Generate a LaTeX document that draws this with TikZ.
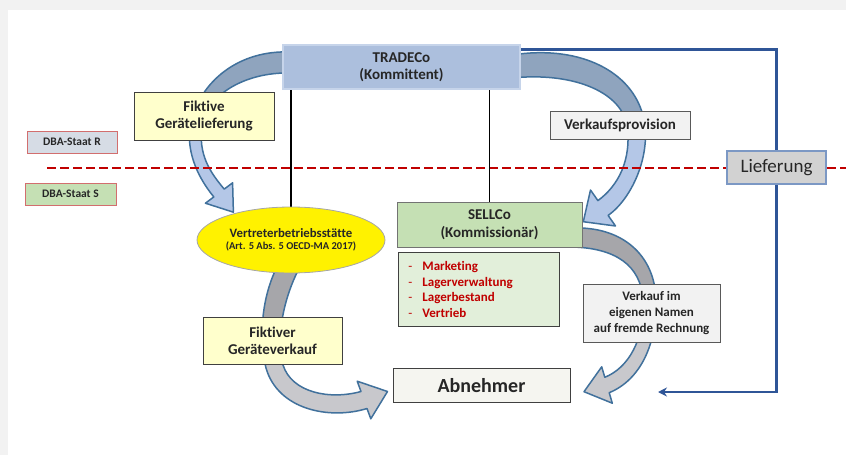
\documentclass[tikz,border=0pt]{standalone}
\usepackage{fontspec}
\setmainfont{Carlito}[Ligatures=NoCommon]
\usetikzlibrary{arrows.meta,shapes.geometric,calc,backgrounds}

\definecolor{rimblue}{RGB}{65,113,156}
\definecolor{lineblue}{RGB}{47,85,151}
\definecolor{dbared}{RGB}{192,0,0}
\definecolor{greyblue}{RGB}{143,164,190}
\definecolor{lightblue}{RGB}{180,199,231}
\definecolor{darkgrey}{RGB}{166,166,170}
\definecolor{lightgrey}{RGB}{200,200,204}
\definecolor{tradeblue}{RGB}{172,191,221}
\definecolor{tradeedge}{RGB}{198,212,234}
\definecolor{paleyellow}{RGB}{255,255,204}
\definecolor{sellgreen}{RGB}{197,224,180}
\definecolor{palegreen}{RGB}{226,239,218}
\definecolor{labelgrey}{RGB}{242,242,242}
\definecolor{liefergrey}{RGB}{210,210,210}
\definecolor{liefedge}{RGB}{124,152,196}
\definecolor{staatblue}{RGB}{214,220,229}
\definecolor{staatedge}{RGB}{210,110,110}
\definecolor{textgrey}{RGB}{38,38,38}

\tikzset{
  box/.style={draw=black!75, line width=0.8pt, rectangle, align=center, inner sep=0pt,
    text=textgrey, font=\fontsize{15}{17}\selectfont\bfseries},
  staat/.style={box, draw=staatedge, line width=1pt, font=\fontsize{11.5}{13}\selectfont\bfseries,
    minimum height=22pt},
  note/.style={box, fill=labelgrey, draw=black!65},
}

% fat curved arrow: outline, upper colour, lower colour, split height
\newcommand{\bentarrow}[4]{%
  \fill[#2] #1;
  \begin{scope}
    \clip (0,#4) rectangle (846,455);
    \fill[#3] #1;
  \end{scope}
  \draw[rimblue, line width=1.5pt, line join=round] #1;
}

\begin{document}
\begin{tikzpicture}[x=1pt, y=-1pt]
\useasboundingbox (0,0) rectangle (846,455);
\fill[black!5] (0,0) rectangle (846,10);
\fill[black!5] (0,0) rectangle (8,455);

\node[box, fill=tradeblue, draw=tradeedge, line width=1.5pt, minimum width=237pt, minimum height=44pt] (tradeco) at (401.5,67) {TRADECo\\(Kommittent)};
\node[box, fill=paleyellow, minimum width=140pt, minimum height=48pt] (fgl) at (204,116) {Fiktive\\Gerätelieferung};
\node[staat, fill=staatblue, minimum width=90pt] (staatR) at (72,142) {DBA-Staat R};
\node[staat, fill=sellgreen, minimum width=91pt] (staatS) at (70.5,194) {DBA-Staat S};
\node[note, minimum width=140pt, minimum height=28pt] (prov) at (620,125) {Verkaufsprovision};
\node[box, fill=liefergrey, draw=liefedge, line width=1.2pt, font=\fontsize{19}{21}\selectfont, minimum width=99pt, minimum height=33pt] (liefer) at (776.5,167.5) {Lieferung};
\node[ellipse, draw=black!35, line width=0.8pt, fill=yellow, inner sep=0pt, text=textgrey, align=center,
  minimum width=188pt, minimum height=66pt, font=\fontsize{10.5}{12}\selectfont\bfseries] (pe) at (291,240)
  {{\fontsize{12.8}{12}\selectfont Vertreterbetriebsstätte}\\(Art. 5 Abs. 5 OECD-MA 2017)};
\node[box, fill=sellgreen, draw=black!55, minimum width=185pt, minimum height=45pt, font=\fontsize{15}{18}\selectfont\bfseries] (sellco) at (489.5,224.5) {SELLCo\\(Kommissionär)};
\node[box, fill=palegreen, anchor=north west, align=left, text=dbared, text width=141pt, inner xsep=10pt,
  minimum height=74pt, font=\fontsize{13}{15.7}\selectfont\bfseries] (funcs) at (398,252)
  {\makebox[14pt][l]{\mdseries -}Marketing\\\makebox[14pt][l]{\mdseries -}Lagerverwaltung\\
   \makebox[14pt][l]{\mdseries -}Lagerbestand\\\makebox[14pt][l]{\mdseries -}Vertrieb};
\node[box, fill=paleyellow, minimum width=139pt, minimum height=47pt] (fgv) at (272.5,340.5) {Fiktiver\\Geräteverkauf};
\node[box, fill={rgb,255:red,245;green,245;blue,240}, minimum width=177pt, minimum height=34pt,
  font=\fontsize{20}{22}\selectfont\bfseries] (abn) at (481.5,385.5) {Abnehmer};
\node[note, minimum width=137pt, minimum height=58pt, font=\fontsize{13}{16}\selectfont\bfseries] (verkauf) at (651.5,313)
  {Verkauf im\\eigenen Namen\\auf fremde Rechnung};
\coordinate (ltip) at (658,392);

\begin{scope}[on background layer]
% curved arrows
\bentarrow{(290,52) .. controls (240,50) and (200,80) .. (190,125) .. controls (186,155) and (200,180) .. (213.8,196.9)
  -- (205.4,203.2) -- (233.4,212.2) -- (232.6,182.8) -- (224.2,189.1)
  .. controls (210,172) and (198,155) .. (202,125) .. controls (207,95) and (245,72) .. (290,73) -- cycle}{greyblue}{lightblue}{116}
\bentarrow{(512,55) .. controls (575,45) and (628,68) .. (642,112) .. controls (654,150) and (633,198) .. (608.1,215.4)
  -- (615.5,226) -- (583.3,221.7) -- (590.5,190) -- (597.9,200.6)
  .. controls (618,186) and (632,160) .. (627,125) .. controls (620,90) and (570,72) .. (512,78) -- cycle}{greyblue}{lightblue}{125}
\bentarrow{(282,258) .. controls (262,290) and (258,335) .. (266,368) .. controls (278,410) and (330,420) .. (367,408.5)
  -- (370.8,418.8) -- (387.5,391.5) -- (357.2,381.2) -- (361,391.5)
  .. controls (330,400) and (292,393) .. (283,365) .. controls (275,335) and (285,290) .. (305,258) -- cycle}{darkgrey}{lightgrey}{340}
\bentarrow{(572,228) .. controls (622,226) and (655,255) .. (656,300) .. controls (657,345) and (640,380) .. (609.2,392.7)
  -- (612.3,403.2) -- (584,391.7) -- (601.7,366.8) -- (604.8,377.3)
  .. controls (628,368) and (645,340) .. (643,300) .. controls (641,265) and (615,248) .. (572,247) -- cycle}{darkgrey}{lightgrey}{313}

% border between the states
\draw[dbared, line width=2.6pt, dash pattern=on 9pt off 4pt] (47,168) -- (846,168);

\draw[line width=1.4pt] (pe.north |- tradeco.south) -- (pe.north);
\draw[line width=1.4pt] (sellco.north |- tradeco.south) -- (sellco.north);

\draw[lineblue, line width=2.8pt, -{Stealth[length=9pt,width=9pt]}]
  ($(tradeco.north east)+(0,5)$) -| (liefer) |- (ltip);
\end{scope}
\end{tikzpicture}
\end{document}
